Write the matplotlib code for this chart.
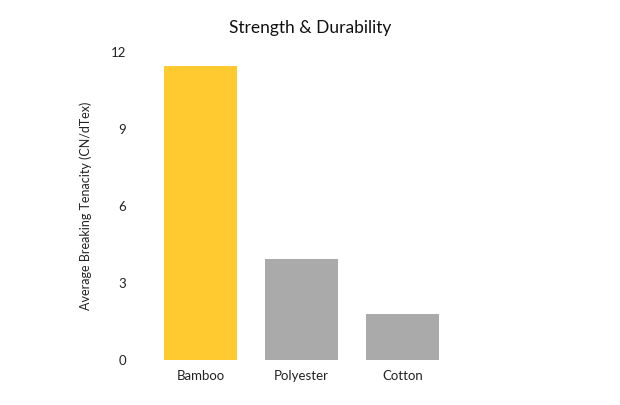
import matplotlib.pyplot as plt

materials = ["Bamboo", "Polyester", "Cotton"]
tenacity = [11.45, 3.93, 1.79]
bar_colors = ["#FFCA30", "#AAAAAA", "#AAAAAA"]
y_ticks = [0, 3, 6, 9, 12]

plt.rcParams['font.family'] = ['Lato', 'DejaVu Sans']

fig = plt.figure(figsize=(6.2, 4.05), dpi=100)
ax = fig.add_axes([150 / 620, 45 / 405, 303 / 620, 308 / 405])

ax.bar(range(len(materials)), tenacity, width=0.72, color=bar_colors)
ax.set_xlim(-0.5, len(materials) - 0.5)
ax.set_ylim(0, 12)
ax.set_yticks(y_ticks)
ax.set_xticks(range(len(materials)))
ax.set_xticklabels(materials)
ax.tick_params(axis='both', length=0, labelsize=9.5, colors="#222222")
ax.tick_params(axis='y', pad=17)
ax.tick_params(axis='x', pad=7)
for side in ax.spines.values():
    side.set_visible(False)

ax.set_ylabel("Average Breaking Tenacity (CN/dTex)", fontsize=9, color="#222222", labelpad=14)
fig.text(0.5, 1 - 28 / 405, "Strength & Durability", ha='center', va='center',
         fontsize=12.5, color="#111111")

fig.savefig("out.png", dpi=100)
